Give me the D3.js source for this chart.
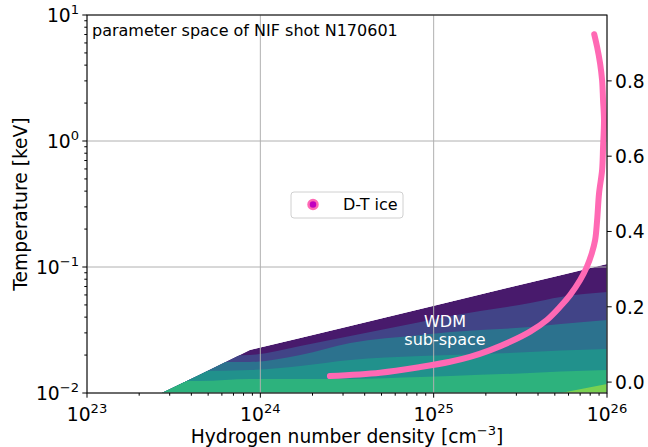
<!DOCTYPE html>
<html><head><meta charset="utf-8">
<script src="https://cdn.jsdelivr.net/npm/d3@7"></script>
<style>
html,body{margin:0;padding:0;background:#fff;}
svg{display:block;font-family:"DejaVu Sans",sans-serif;}
</style></head>
<body>
<svg id="chart" width="648" height="447"></svg>
<script>
// ---- data ----
const density = [2.7e23, 4.5e23, 8.7e23, 1.7e24, 3.3e24, 8.4e24, 1.25e25, 3.6e25, 5.4e25, 1e26];
const wdmUpper = [0.0100, 0.01405, 0.02195, 0.02732, 0.03407, 0.04642, 0.05293, 0.07533, 0.08593, 0.1056];
const level1 = [0.01966, 0.01966, 0.02002, 0.02361, 0.02834, 0.03660, 0.04084, 0.05180, 0.05780, 0.06331];
const level2 = [0.01762, 0.01762, 0.01762, 0.02002, 0.02493, 0.02886, 0.03050, 0.03341, 0.03528, 0.03797];
const level3 = [0.01495, 0.01495, 0.01522, 0.01638, 0.01828, 0.01966, 0.02002, 0.02115, 0.02175, 0.02235];
const level4 = [0.01245, 0.01245, 0.01292, 0.01292, 0.01292, 0.01340, 0.01364, 0.01441, 0.01481, 0.01522];
const level5 = [0.0088, 0.0088, 0.0088, 0.0088, 0.0088, 0.0088, 0.0088, 0.00902, 0.0100, 0.01179];
const bandColors = ["#481a6c", "#414487", "#2c728e", "#21918c", "#2db27d", "#7ad151"];

const iceDensity = [2.52e24, 4.91e24, 8.36e24, 1.244e25, 1.62e25, 2.12e25, 2.76e25, 3.60e25, 4.50e25, 5.36e25,
  6.12e25, 7.0e25, 7.65e25, 8.17e25, 8.54e25, 8.77e25, 9.0e25, 9.37e25, 9.49e25, 9.61e25,
  9.49e25, 9.37e25, 9.12e25, 8.77e25, 8.44e25];
const iceParam = [0.016, 0.025, 0.040, 0.054, 0.067, 0.085, 0.107, 0.134, 0.165, 0.200,
  0.231, 0.271, 0.306, 0.342, 0.377, 0.430, 0.502, 0.563, 0.624, 0.696,
  0.749, 0.802, 0.847, 0.890, 0.924];

const xMajor = [1e23, 1e24, 1e25, 1e26];
const xExp = ["23", "24", "25", "26"];
const yMajor = [1e-2, 1e-1, 1e0, 1e1];
const yExp = ["\u22122", "\u22121", "0", "1"];
const y2Ticks = [0.0, 0.2, 0.4, 0.6, 0.8];

// ---- layout ----
const L = 87, R = 607, T = 15, B = 393;
const svg = d3.select("#chart");
const x = d3.scaleLog().domain([1e23, 1e26]).range([L, R]);
const y = d3.scaleLog().domain([1e-2, 1e1]).range([B, T]);
const y2 = d3.scaleLinear().domain([-0.029, 0.975]).range([B, T]);

const defs = svg.append("defs");
const outerArea = d3.area().x((d, i) => x(density[i])).y0(y(1e-2)).y1(d => y(d));
const bandArea = d3.area().x((d, i) => x(density[i])).y0(y(1e-2) + 20).y1(d => y(d)).curve(d3.curveMonotoneX);
defs.append("clipPath").attr("id", "wdmclip").append("path").attr("d", outerArea(wdmUpper));
defs.append("clipPath").attr("id", "plotclip").append("rect")
  .attr("x", L).attr("y", T).attr("width", R - L).attr("height", B - T);

// ---- bands ----
const bands = [wdmUpper, level1, level2, level3, level4, level5];
const gBands = svg.append("g").attr("clip-path", "url(#wdmclip)");
bands.forEach((arr, k) => {
  gBands.append("path").attr("d", k === 0 ? outerArea(arr) : bandArea(arr)).attr("fill", bandColors[k]);
});

// ---- grid ----
const gGrid = svg.append("g").attr("stroke", "#b0b0b0").attr("stroke-width", 1);
xMajor.forEach(v => gGrid.append("line").attr("x1", x(v)).attr("x2", x(v)).attr("y1", T).attr("y2", B));
yMajor.forEach(v => gGrid.append("line").attr("x1", L).attr("x2", R).attr("y1", y(v)).attr("y2", y(v)));

// ---- WDM label ----
const wdm = svg.append("text").attr("fill", "#fff").attr("font-size", 16).attr("text-anchor", "middle");
wdm.append("tspan").attr("x", 445).attr("y", 327).text("WDM");
wdm.append("tspan").attr("x", 445).attr("y", 345).text("sub-space");

// ---- ice line ----
const line = d3.line().x((d, i) => x(iceDensity[i])).y(d => y2(d)).curve(d3.curveCatmullRom);
svg.append("path").attr("clip-path", "url(#plotclip)").attr("d", line(iceParam))
  .attr("fill", "none").attr("stroke", "#ff69b4").attr("stroke-width", 6)
  .attr("stroke-linecap", "round").attr("stroke-linejoin", "round");

// ---- axes ----
const ax = svg.append("g").attr("stroke", "#000").attr("stroke-width", 1);
const minorTicks = (lo, hi) => { const r = []; for (let e = lo; e < hi; e++) for (let m = 2; m <= 9; m++) r.push(m * Math.pow(10, e)); return r; };
xMajor.forEach(v => ax.append("line").attr("x1", x(v)).attr("x2", x(v)).attr("y1", B).attr("y2", B + 4.7));
minorTicks(23, 26).forEach(v => ax.append("line").attr("x1", x(v)).attr("x2", x(v)).attr("y1", B).attr("y2", B + 2.7));
yMajor.forEach(v => ax.append("line").attr("x1", L - 4.7).attr("x2", L).attr("y1", y(v)).attr("y2", y(v)));
minorTicks(-2, 1).forEach(v => ax.append("line").attr("x1", L - 2.7).attr("x2", L).attr("y1", y(v)).attr("y2", y(v)));
y2Ticks.forEach(v => ax.append("line").attr("x1", R).attr("x2", R + 4.7).attr("y1", y2(v)).attr("y2", y2(v)));
svg.append("rect").attr("x", L).attr("y", T).attr("width", R - L).attr("height", B - T)
  .attr("fill", "none").attr("stroke", "#000").attr("stroke-width", 1);

const FS = 18.7;
function powLabel(g, px, py, exp, anchor) {
  const t = g.append("text").attr("x", px).attr("y", py).attr("font-size", FS).attr("text-anchor", anchor).attr("fill", "#000");
  t.append("tspan").text("10");
  t.append("tspan").attr("font-size", FS * 0.7).attr("dy", -8).text(exp);
}
const gl = svg.append("g");
xMajor.forEach((v, i) => powLabel(gl, x(v), 421, xExp[i], "middle"));
yMajor.forEach((v, i) => powLabel(gl, L - 8, y(v) + 7, yExp[i], "end"));
y2Ticks.forEach(v => gl.append("text").attr("x", R + 8).attr("y", y2(v) + 6.8).attr("font-size", FS)
  .text(d3.format(".1f")(v)));

// axis titles
const xl = svg.append("text").attr("x", (L + R) / 2).attr("y", 443).attr("font-size", FS).attr("text-anchor", "middle");
xl.append("tspan").text("Hydrogen number density [cm");
xl.append("tspan").attr("font-size", FS * 0.7).attr("dy", -8).text("\u22123");
xl.append("tspan").attr("dy", 8).text("]");
svg.append("text").attr("transform", `translate(27,${(T + B) / 2}) rotate(-90)`).attr("font-size", FS)
  .attr("text-anchor", "middle").text("Temperature [keV]");

// annotation
svg.append("text").attr("x", 92).attr("y", 36).attr("font-size", 16).text("parameter space of NIF shot N170601");

// legend
const lg = svg.append("g");
lg.append("rect").attr("x", 291).attr("y", 192).attr("width", 112).attr("height", 26).attr("rx", 3)
  .attr("fill", "#fff").attr("fill-opacity", 0.8).attr("stroke", "#d0d0d0");
lg.append("circle").attr("cx", 313).attr("cy", 204.5).attr("r", 4.5).attr("fill", "#c000c0")
  .attr("stroke", "#ff69b4").attr("stroke-width", 2.5);
lg.append("text").attr("x", 343).attr("y", 210).attr("font-size", 16).text("D-T ice");
</script>
</body></html>
